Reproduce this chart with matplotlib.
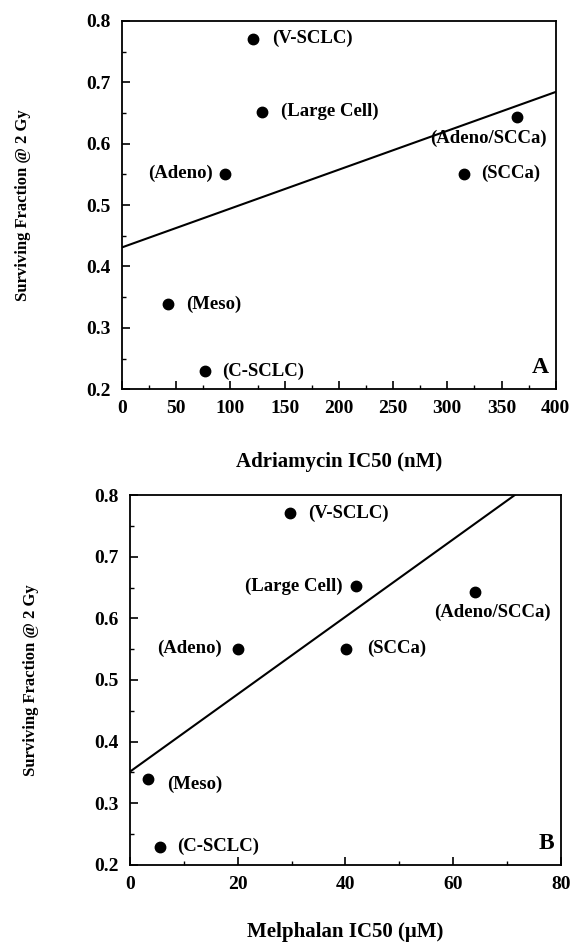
import numpy as np
import matplotlib.pyplot as plt
from matplotlib.ticker import MultipleLocator

# cell lines and surviving fraction at 2 Gy
lines = ["(V-SCLC)", "(Large Cell)", "(Adeno)", "(SCCa)", "(Adeno/SCCa)", "(Meso)", "(C-SCLC)"]
sf2 = [0.771, 0.652, 0.551, 0.551, 0.643, 0.339, 0.229]

# IC50 values
adriamycin = [120.6, 128.9, 95.0, 315.4, 364.7, 42.1, 76.9]
melphalan = [29.7, 42.0, 20.1, 40.1, 64.0, 3.3, 5.6]

# regression lines (intercept, slope)
fit_adr = (0.431, 0.000633)
fit_mel = (0.351, 0.00629)

# label offsets in points (dx, dy, ha)
offs_adr = [(14, 0, "left"), (14, 0, "left"), (-9, 0, "right"), (12, 0, "left"),
            (-21, -15, "center"), (13, 0, "left"), (12, 0, "left")]
offs_mel = [(13, 0, "left"), (-10, 0, "right"), (-12, 0, "right"), (15, 0, "left"),
            (13, -15, "center"), (14, -4, "left"), (12, 0, "left")]

plt.rcParams["font.family"] = "Liberation Serif"
plt.rcParams["font.weight"] = "bold"

fig = plt.figure(figsize=(5.7, 9.47), dpi=100)
ax1 = fig.add_axes([0.214, 0.589, 0.761, 0.389])
ax2 = fig.add_axes([0.228, 0.087, 0.756, 0.390])


def panel(ax, x, fit, xmax, major, minor, offs, xlabel, xpad, letter):
    ax.plot(x, sf2, "o", color="black", markersize=7.5, zorder=3)
    xs = np.array([0, xmax])
    ax.plot(xs, fit[0] + fit[1] * xs, color="black", lw=1.5)
    for xi, yi, lab, (dx, dy, ha) in zip(x, sf2, lines, offs):
        ax.annotate(lab, (xi, yi), xytext=(dx, dy), textcoords="offset points",
                    ha=ha, va="center", fontsize=13.5, fontweight="bold")
    ax.set_xlim(0, xmax)
    ax.set_ylim(0.2, 0.8)
    ax.xaxis.set_major_locator(MultipleLocator(major))
    ax.xaxis.set_minor_locator(MultipleLocator(minor))
    ax.yaxis.set_major_locator(MultipleLocator(0.1))
    ax.yaxis.set_minor_locator(MultipleLocator(0.05))
    ax.tick_params(which="major", direction="in", length=6, width=1.2, labelsize=14, pad=8)
    ax.tick_params(which="minor", direction="in", length=3, width=1)
    for lab in ax.get_xticklabels() + ax.get_yticklabels():
        lab.set_fontweight("bold")
    ax.yaxis.set_major_formatter(plt.FuncFormatter(lambda v, p: f"{v:.1f}"))
    for s in ax.spines.values():
        s.set_linewidth(1.3)
    ax.set_xlabel(xlabel, fontsize=15, fontweight="bold", labelpad=xpad)
    ax.set_ylabel("Surviving Fraction @ 2 Gy", fontsize=12, fontweight="bold", labelpad=40)
    ax.text(0.985, 0.03, letter, transform=ax.transAxes, ha="right", va="bottom",
            fontsize=17, fontweight="bold")


panel(ax1, adriamycin, fit_adr, 400, 50, 25, offs_adr, "Adriamycin IC50 (nM)", 25, "A")
panel(ax2, melphalan, fit_mel, 80, 20, 10, offs_mel, "Melphalan IC50 (\u03bcM)", 21, "B")

fig.savefig("out.png", dpi=100)
